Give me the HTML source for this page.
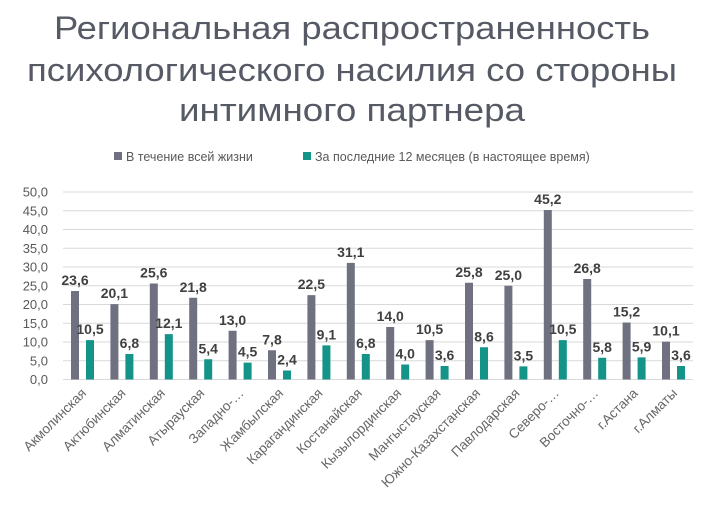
<!DOCTYPE html>
<html><head><meta charset="utf-8"><style>
html,body{margin:0;padding:0;background:#fff}
svg{display:block;font-family:"Liberation Sans","DejaVu Sans",sans-serif}
</style></head><body>
<svg width="705" height="508" viewBox="0 0 705 508" xmlns="http://www.w3.org/2000/svg">
<g fill="#555a65" font-size="32" text-anchor="middle">
<text x="352" y="39" textLength="596" lengthAdjust="spacingAndGlyphs">Региональная распространенность</text>
<text x="352" y="81" textLength="650" lengthAdjust="spacingAndGlyphs">психологического насилия со стороны</text>
<text x="352" y="121" textLength="346" lengthAdjust="spacingAndGlyphs">интимного партнера</text>
</g>
<g font-size="12.5" fill="#595959">
<rect x="114" y="152" width="8" height="8" fill="#6f7181"/>
<text x="126" y="161">В течение всей жизни</text>
<rect x="303" y="152" width="8" height="8" fill="#149488"/>
<text x="315" y="161">За последние 12 месяцев (в настоящее время)</text>
</g>
<g id="grid" stroke="#d9d9d9" stroke-width="1"></g>
<g id="yl" font-size="13" fill="#595959" text-anchor="end"></g>
<g id="bars"></g>
<g id="xl" font-size="13.5" fill="#666666" text-anchor="end"></g>
</svg>
<script>
var ns="http://www.w3.org/2000/svg";
function el(p,t,a,txt){var e=document.createElementNS(ns,t);for(var k in a)e.setAttribute(k,a[k]);if(txt!=null)e.textContent=txt;document.getElementById(p).appendChild(e);}
var y0=379.5,s=3.75;
for(var v=0;v<=50;v+=5){var y=y0-v*s;el("grid","line",{x1:63,x2:693,y1:y,y2:y});el("yl","text",{x:48,y:y+4.5},v.toFixed(1).replace(".",","));}
var c=["Акмолинская","Актюбинская","Алматинская","Атырауская","Западно-…","Жамбылская","Карагандинская","Костанайская","Кызылординская","Мангыстауская","Южно-Казахстанская","Павлодарская","Северо-…","Восточно-…","г.Астана","г.Алматы"];
var a=[23.6,20.1,25.6,21.8,13.0,7.8,22.5,31.1,14.0,10.5,25.8,25.0,45.2,26.8,15.2,10.1];
var b=[10.5,6.8,12.1,5.4,4.5,2.4,9.1,6.8,4.0,3.6,8.6,3.5,10.5,5.8,5.9,3.6];
for(var i=0;i<16;i++){var x=71+i*39.4;
el("bars","rect",{x:x,y:y0-a[i]*s,width:8,height:a[i]*s,fill:"#6f7181"});
el("bars","rect",{x:x+15,y:y0-b[i]*s,width:8,height:b[i]*s,fill:"#149488"});
el("bars","text",{x:x+4,y:y0-a[i]*s-6,"font-size":14,"font-weight":"bold",fill:"#404040","text-anchor":"middle"},a[i].toFixed(1).replace(".",","));
el("bars","text",{x:x+19,y:y0-b[i]*s-6,"font-size":14,"font-weight":"bold",fill:"#404040","text-anchor":"middle"},b[i].toFixed(1).replace(".",","));
var cx=x+16;el("xl","text",{x:cx,y:394,transform:"rotate(-45 "+cx+" 394)"},c[i]);}
</script>
</body></html>
